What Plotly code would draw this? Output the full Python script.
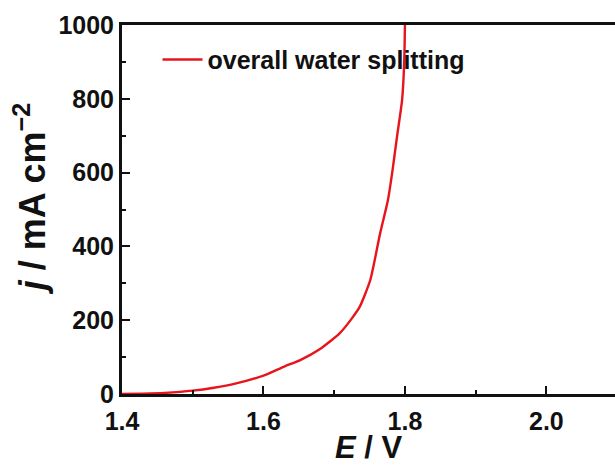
import plotly.graph_objects as go

E = [1.40, 1.43, 1.46, 1.50, 1.53, 1.56, 1.60, 1.63, 1.652, 1.68, 1.708, 1.725, 1.736, 1.751, 1.765, 1.776, 1.782, 1.789, 1.796, 1.799, 1.800]
j = [0, 1, 3, 9, 17, 28, 50, 75, 92, 122, 165, 205, 236, 309, 436, 526, 600, 700, 797, 900, 1000]

series_name = "overall water splitting"
x_ticks = [1.4, 1.6, 1.8, 2.0]
y_ticks = [0, 200, 400, 600, 800, 1000]

FONT = "Liberation Sans, Arial, sans-serif"

fig = go.Figure()
fig.add_trace(go.Scatter(x=E, y=j, mode="lines", name=series_name,
                         line=dict(color="#e8141b", width=2.4, shape="spline", smoothing=0.6)))

fig.update_layout(
    width=615, height=465,
    margin=dict(l=122, r=0, t=25, b=71),
    plot_bgcolor="white", paper_bgcolor="white",
    showlegend=True,
    legend=dict(x=0.072, y=0.968, xanchor="left", yanchor="top",
                bgcolor="rgba(0,0,0,0)", itemwidth=40,
                font=dict(family=FONT, size=25, color="#111", weight="bold")),
    font=dict(family=FONT, color="#111"),
)
fig.update_xaxes(
    range=[1.4, 2.097], tickvals=x_ticks, ticktext=["1.4", "1.6", "1.8", "2.0"],
    ticks="inside", ticklen=8, tickwidth=2, tickcolor="#111",
    showline=True, linewidth=3, linecolor="#111", mirror=True,
    showgrid=False, zeroline=False,
    minor=dict(ticks="inside", ticklen=4, tickwidth=2, tickcolor="#111", dtick=0.1, tick0=1.4, showgrid=False),
    tickfont=dict(family=FONT, size=25, weight="bold"), ticklabelstandoff=3,
    title=dict(text="<i>E</i> / V", font=dict(family=FONT, size=31, weight="bold"), standoff=0),
)
fig.update_yaxes(
    range=[0, 1000], tickvals=y_ticks,
    ticks="inside", ticklen=8, tickwidth=2, tickcolor="#111",
    showline=True, linewidth=3, linecolor="#111",
    showgrid=False, zeroline=False,
    minor=dict(ticks="inside", ticklen=4, tickwidth=2, tickcolor="#111", dtick=100, tick0=0, showgrid=False),
    tickfont=dict(family=FONT, size=25, weight="bold"),
)
fig.add_annotation(
    text="<i>j</i> / mA cm<sup>\u22122</sup>", xref="paper", yref="paper",
    x=-0.185, y=0.53, xanchor="center", yanchor="middle", textangle=-90, showarrow=False,
    font=dict(family=FONT, size=36, color="#111", weight="bold"),
)

fig.write_html("out.html")
